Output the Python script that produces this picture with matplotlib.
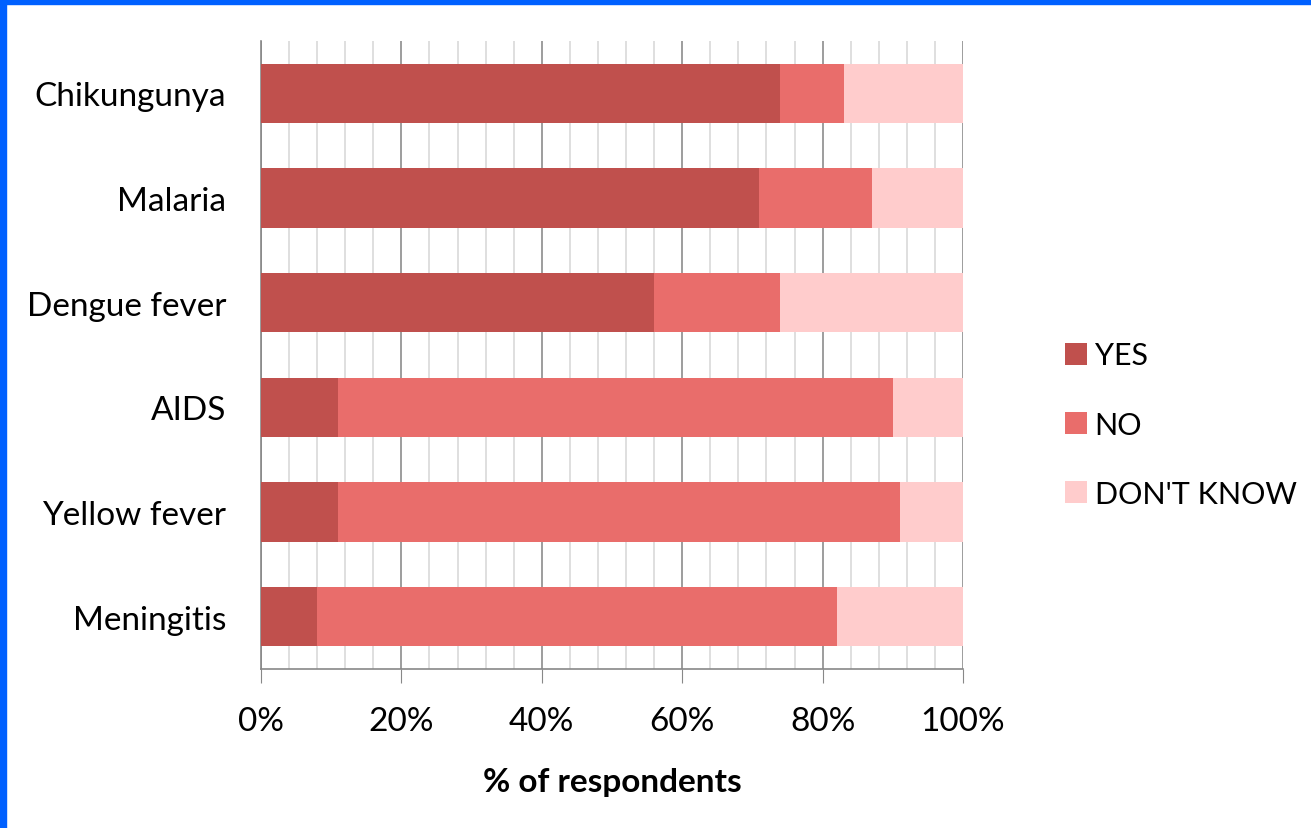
import numpy as np
import matplotlib.pyplot as plt
from matplotlib.patches import Rectangle
from matplotlib.ticker import MultipleLocator, FuncFormatter

plt.rcParams['font.family'] = ['Lato', 'DejaVu Sans']

diseases = ["Chikungunya", "Malaria", "Dengue fever", "AIDS", "Yellow fever", "Meningitis"]
yes = [74, 71, 56, 11, 11, 8]
no = [9, 16, 18, 79, 80, 74]
dont_know = [17, 13, 26, 10, 9, 18]

series = ["YES", "NO", "DON'T KNOW"]
colors = ["#C0504D", "#E96D6B", "#FFCCCC"]

fig = plt.figure(figsize=(13.11, 8.29), dpi=100)
ax = fig.add_axes([261 / 1311, 1 - 670 / 829, 702 / 1311, 628 / 829])

y = np.arange(len(diseases))
left = np.zeros(len(diseases))
for name, vals, c in zip(series, [yes, no, dont_know], colors):
    vals = np.array(vals, dtype=float)
    ax.barh(y, vals, left=left, height=0.565, color=c, label=name, zorder=3)
    left += vals

ax.set_xlim(0, 100)
ax.set_ylim(len(diseases) - 0.5, -0.5)
ax.set_yticks(y)
ax.set_yticklabels(diseases, fontsize=24)
ax.xaxis.set_major_locator(MultipleLocator(20))
ax.xaxis.set_minor_locator(MultipleLocator(4))
ax.xaxis.set_major_formatter(FuncFormatter(lambda v, p: f"{v:.0f}%"))
ax.tick_params(axis="x", which="major", labelsize=24, length=10, color="#888888", pad=17)
ax.tick_params(axis="x", which="minor", length=0)
ax.tick_params(axis="y", length=0, pad=25)
ax.grid(axis="x", which="major", color="#8C8C8C", linewidth=1.2, zorder=0)
ax.grid(axis="x", which="minor", color="#D9D9D9", linewidth=1.2, zorder=0)
for s in ["top", "right"]:
    ax.spines[s].set_visible(False)
ax.spines["left"].set_color("#888888")
ax.spines["bottom"].set_color("#888888")
ax.spines["left"].set_linewidth(1.2)
ax.spines["bottom"].set_linewidth(1.2)

ax.set_xlabel("% of respondents", fontsize=24, fontweight="bold", labelpad=22)

ax.legend(loc="center left", bbox_to_anchor=(1.128, 0.389), frameon=False,
          borderaxespad=0, fontsize=22, handlelength=0.72, handleheight=0.72,
          handletextpad=0.25, labelspacing=1.35)

# blue frame on left and top
fig.patches.append(Rectangle((0, 0), 6 / 1311, 1, transform=fig.transFigure,
                             color="#0060FF", zorder=10))
fig.patches.append(Rectangle((0, 1 - 5 / 829), 1, 5 / 829, transform=fig.transFigure,
                             color="#0060FF", zorder=10))

fig.savefig("out.png", dpi=100)
